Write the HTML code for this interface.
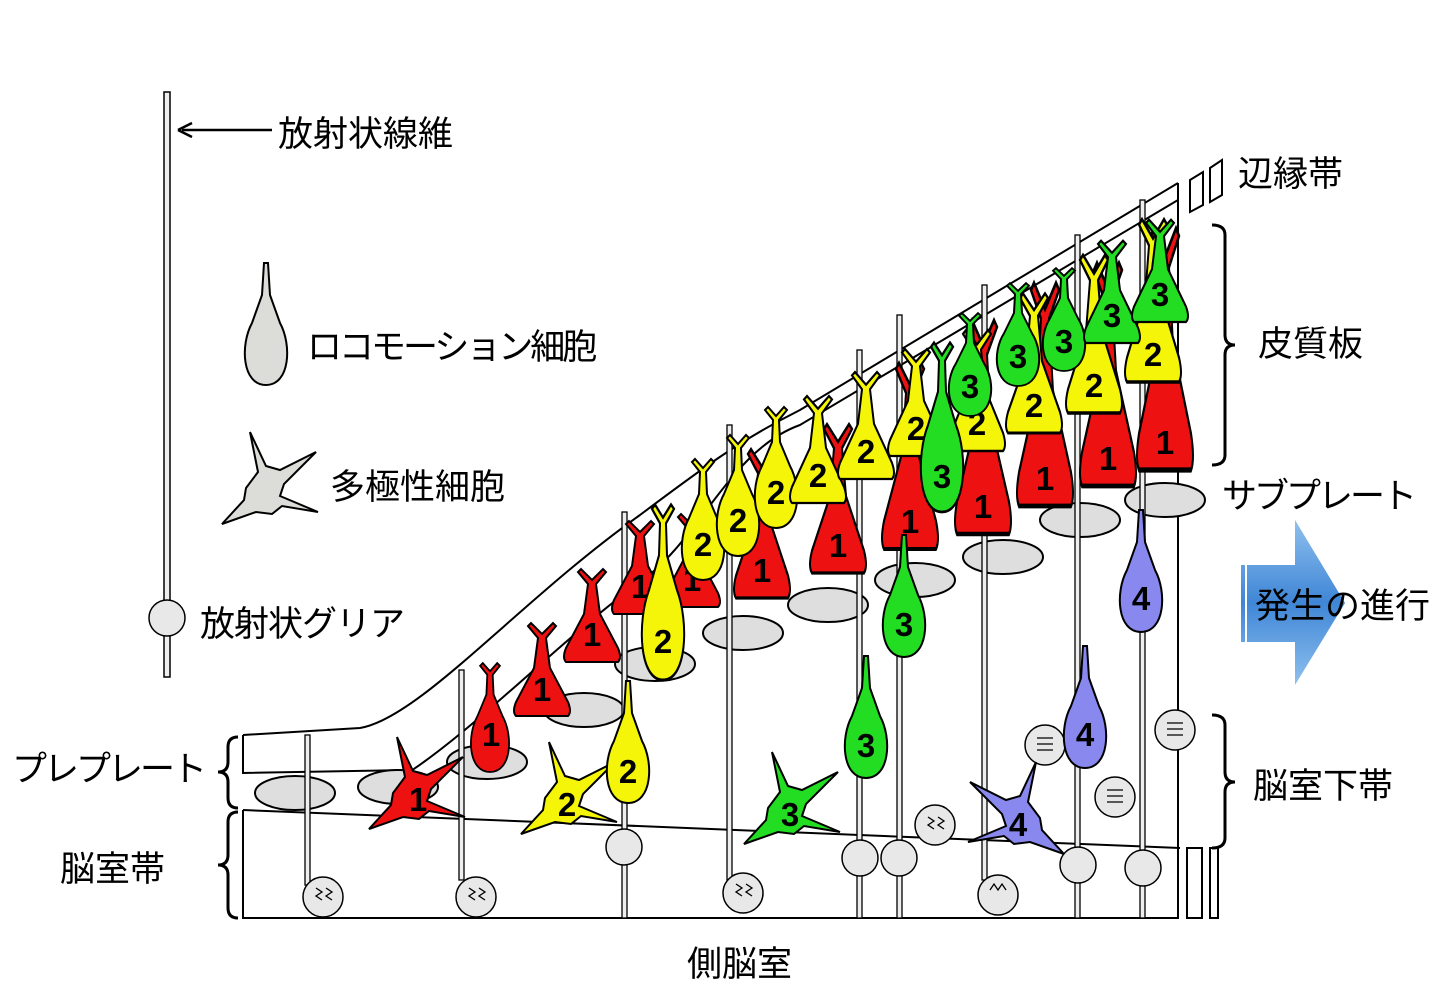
<!DOCTYPE html>
<html><head><meta charset="utf-8"><style>
html,body{margin:0;padding:0;background:#fff}
svg{display:block}
.j{font-family:"Liberation Sans","Noto Sans CJK JP",sans-serif;font-size:35px;fill:#000}
.k{letter-spacing:-3px}
.n{font-family:"Liberation Sans",sans-serif;font-weight:bold;font-size:33px;text-anchor:middle;fill:#000}
</style></head><body>
<svg width="1440" height="997" viewBox="0 0 1440 997" xmlns="http://www.w3.org/2000/svg">
<defs>
<path id="flask" d="M-26,0 Q-30,-4 -26,-14 L-8,-48 L-4,-78 L-14,-90 L-11,-93 L0,-82 L11,-93 L14,-90 L4,-78 L8,-48 L26,-14 Q30,-4 26,0 Z" stroke="#000" stroke-width="2"/>
<path id="spin" d="M0,0 C-24,0 -26,-40 -14,-62 L-4,-86 L-3,-108 L-11,-118 L-8,-121 L0,-112 L8,-121 L11,-118 L3,-108 L4,-86 L14,-62 C26,-40 24,0 0,0 Z" stroke="#000" stroke-width="2"/>
<path id="spin2" d="M0,0 C-24,0 -26,-40 -14,-62 L-4,-90 L-2,-122 L2,-122 L4,-90 L14,-62 C26,-40 24,0 0,0 Z" stroke="#000" stroke-width="2"/>
<path id="multi" d="M-10,-18 L-18,-58 L-2,-24 L12,-20 L48,-38 L16,-6 L12,6 L50,22 L14,16 L4,24 L-12,22 L-46,34 L-24,10 L-22,-2 Z" stroke="#000" stroke-width="2"/>
<linearGradient id="bl" x1="0" y1="0" x2="0" y2="1"><stop offset="0" stop-color="#8fc0ee"/><stop offset="0.5" stop-color="#3f86d6"/><stop offset="1" stop-color="#8fc0ee"/></linearGradient>
</defs>

<!-- left legend -->
<rect x="164" y="92" width="6" height="585" fill="#eee" stroke="#000" stroke-width="1.5"/>
<circle cx="167" cy="618" r="18" fill="#e8e8e8" stroke="#000" stroke-width="1.5"/>
<line x1="182" y1="130" x2="272" y2="130" stroke="#000" stroke-width="2.5"/>
<path d="M178,130 L192,123 M178,130 L192,137" stroke="#000" stroke-width="2.5" fill="none"/>
<text class="j" x="278" y="146">放射状線維</text>
<g transform="translate(266,385)"><use href="#spin2" fill="#dcdcd8"/></g>
<text class="j k" x="307" y="359">ロコモーション細胞</text>
<g transform="translate(268,490)"><use href="#multi" fill="#dcdcd8"/></g>
<text class="j" x="330" y="499">多極性細胞</text>
<text class="j" x="200" y="636" style="letter-spacing:-1px">放射状グリア</text>

<!-- tissue outline -->
<g fill="none" stroke="#000" stroke-width="2">
<path d="M243,735 L360,728 C420,718 520,600 640,515 C700,470 740,440 800,410 L1178,183"/>
<path d="M400,778 C470,735 560,640 640,582 C700,540 730,450 800,425 L1178,200"/>
<path d="M243,735 L243,773 L410,770"/>
<path d="M243,810 L1180,848"/>
<path d="M243,810 L243,918 L1178,918 L1178,183"/>
</g>
<path d="M1190,180 L1203,172 L1203,205 L1190,212 Z M1210,168 L1222,160 L1222,195 L1210,202 Z" fill="#fff" stroke="#000" stroke-width="2"/>
<rect x="1187" y="848" width="15" height="70" fill="#fff" stroke="#000" stroke-width="2"/>
<rect x="1210" y="848" width="8" height="70" fill="#fff" stroke="#000" stroke-width="2"/>

<!-- subplate ellipses -->
<g fill="#dedede" stroke="#000" stroke-width="2">
<ellipse cx="295" cy="793" rx="40" ry="17"/><ellipse cx="398" cy="787" rx="40" ry="17"/>
<ellipse cx="487" cy="762" rx="40" ry="17"/><ellipse cx="584" cy="710" rx="40" ry="17"/>
<ellipse cx="655" cy="664" rx="40" ry="17"/><ellipse cx="743" cy="633" rx="40" ry="17"/>
<ellipse cx="828" cy="605" rx="40" ry="17"/><ellipse cx="915" cy="580" rx="40" ry="17"/>
<ellipse cx="1003" cy="557" rx="40" ry="17"/><ellipse cx="1080" cy="520" rx="40" ry="17"/>
<ellipse cx="1165" cy="500" rx="40" ry="17"/>
</g>

<!-- radial glia fibers -->
<g fill="#eee" stroke="#000" stroke-width="1.3">
<rect x="305" y="735" width="5" height="150"/><rect x="459" y="670" width="5" height="210"/>
<rect x="622" y="512" width="5" height="406"/><rect x="727" y="425" width="5" height="455"/>
<rect x="857" y="350" width="5" height="568"/><rect x="897" y="315" width="5" height="603"/>
<rect x="982" y="285" width="5" height="595"/><rect x="1075" y="235" width="5" height="683"/>
<rect x="1140" y="200" width="5" height="718"/>
</g>
<g fill="#e8e8e8" stroke="#000" stroke-width="1.5">
<circle cx="624" cy="847" r="18"/><circle cx="860" cy="858" r="18"/><circle cx="899" cy="858" r="18"/>
<circle cx="1078" cy="865" r="18"/><circle cx="1143" cy="868" r="18"/>
<circle cx="323" cy="897" r="20"/><circle cx="476" cy="897" r="20"/><circle cx="743" cy="893" r="20"/><circle cx="998" cy="895" r="20"/>
<circle cx="935" cy="825" r="20"/><circle cx="1045" cy="745" r="20"/><circle cx="1115" cy="797" r="20"/><circle cx="1175" cy="730" r="20"/>
</g>
<g fill="none" stroke="#000" stroke-width="1.3">
<path d="M316,888 l6,4 -6,4 6,4 M326,888 l6,4 -6,4 6,4"/>
<path d="M469,888 l6,4 -6,4 6,4 M479,888 l6,4 -6,4 6,4"/>
<path d="M736,884 l6,4 -6,4 6,4 M746,884 l6,4 -6,4 6,4"/>
<path d="M990,890 l4,-6 4,6 4,-6 4,6"/>
<path d="M928,817 l6,4 -6,4 6,4 M938,817 l6,4 -6,4 6,4"/>
<path d="M1037,738 h16 M1037,744 h16 M1037,750 h16"/>
<path d="M1107,790 h16 M1107,796 h16 M1107,802 h16"/>
<path d="M1167,723 h16 M1167,729 h16 M1167,735 h16"/>
</g>

<!-- red cells -->
<g fill="#ee1111">
<g transform="translate(415,795)"><use href="#multi"/></g>
<g transform="translate(490,772) scale(0.9)"><use href="#spin"/></g>
<g transform="translate(542,716)"><use href="#flask"/></g>
<g transform="translate(592,662)"><use href="#flask"/></g>
<g transform="translate(640,614)"><use href="#flask"/></g>
<g transform="translate(692,607)"><use href="#flask"/></g>
<g transform="translate(762,598) scale(1,1.6)"><use href="#flask"/></g>
<g transform="translate(838,573) scale(1,1.6)"><use href="#flask"/></g>
<g transform="translate(910,549) scale(1,2)"><use href="#flask"/></g>
<g transform="translate(983,534) scale(1,2.3)"><use href="#flask"/></g>
<g transform="translate(1045,506) scale(1,2.4)"><use href="#flask"/></g>
<g transform="translate(1108,486) scale(1,2.4)"><use href="#flask"/></g>
<g transform="translate(1165,470) scale(1,2.6)"><use href="#flask"/></g>
</g>
<text class="n" x="418" y="811">1</text><text class="n" x="491" y="746">1</text>
<text class="n" x="542" y="701">1</text><text class="n" x="592" y="646">1</text>
<text class="n" x="640" y="598">1</text><text class="n" x="692" y="591">1</text>
<text class="n" x="762" y="582">1</text><text class="n" x="838" y="557">1</text>
<text class="n" x="910" y="533">1</text><text class="n" x="983" y="518">1</text>
<text class="n" x="1045" y="490">1</text><text class="n" x="1108" y="470">1</text>
<text class="n" x="1165" y="454">1</text>

<!-- yellow cells -->
<g fill="#f5f50a">
<g transform="translate(567,800)"><use href="#multi"/></g>
<g transform="translate(628,803)"><use href="#spin2"/></g>
<g transform="translate(663,680) scale(1,1.45)"><use href="#spin"/></g>
<g transform="translate(703,580)"><use href="#spin"/></g>
<g transform="translate(738,556)"><use href="#spin"/></g>
<g transform="translate(776,528)"><use href="#spin"/></g>
<g transform="translate(818,503) scale(1,1.15)"><use href="#flask"/></g>
<g transform="translate(866,479) scale(1,1.15)"><use href="#flask"/></g>
<g transform="translate(916,456) scale(1,1.15)"><use href="#flask"/></g>
<g transform="translate(977,451) scale(1,1.3)"><use href="#flask"/></g>
<g transform="translate(1034,433) scale(1,1.5)"><use href="#flask"/></g>
<g transform="translate(1094,413) scale(1,1.7)"><use href="#flask"/></g>
<g transform="translate(1153,382) scale(1,1.75)"><use href="#flask"/></g>
</g>
<text class="n" x="567" y="816">2</text><text class="n" x="628" y="783">2</text>
<text class="n" x="663" y="653">2</text><text class="n" x="703" y="556">2</text>
<text class="n" x="738" y="532">2</text><text class="n" x="776" y="504">2</text>
<text class="n" x="818" y="487">2</text><text class="n" x="866" y="463">2</text>
<text class="n" x="916" y="440">2</text><text class="n" x="977" y="435">2</text>
<text class="n" x="1034" y="417">2</text><text class="n" x="1094" y="397">2</text>
<text class="n" x="1153" y="366">2</text>

<!-- green cells -->
<g fill="#22dd22">
<g transform="translate(790,810)"><use href="#multi"/></g>
<g transform="translate(866,778)"><use href="#spin2"/></g>
<g transform="translate(904,657)"><use href="#spin2"/></g>
<g transform="translate(942,512) scale(1,1.4)"><use href="#spin"/></g>
<g transform="translate(970,416) scale(1,0.85)"><use href="#spin"/></g>
<g transform="translate(1018,386) scale(1,0.85)"><use href="#spin"/></g>
<g transform="translate(1064,371) scale(1,0.85)"><use href="#spin"/></g>
<g transform="translate(1112,343) scale(1,1.1)"><use href="#flask"/></g>
<g transform="translate(1160,322) scale(1,1.1)"><use href="#flask"/></g>
</g>
<text class="n" x="790" y="826">3</text><text class="n" x="866" y="757">3</text>
<text class="n" x="904" y="636">3</text><text class="n" x="942" y="488">3</text>
<text class="n" x="970" y="398">3</text><text class="n" x="1018" y="368">3</text>
<text class="n" x="1064" y="353">3</text><text class="n" x="1112" y="327">3</text>
<text class="n" x="1160" y="306">3</text>

<!-- blue cells -->
<g fill="#8888ee">
<g transform="translate(1018,820) scale(1,-1) rotate(180)"><use href="#multi"/></g>
<g transform="translate(1085,768)"><use href="#spin2"/></g>
<g transform="translate(1141,632)"><use href="#spin2"/></g>
</g>
<text class="n" x="1018" y="836">4</text><text class="n" x="1085" y="746">4</text><text class="n" x="1141" y="610">4</text>

<!-- right labels & braces -->
<g fill="none" stroke="#000" stroke-width="3">
<path d="M1212,225 Q1225,225 1225,235 L1225,335 Q1225,345 1235,345 Q1225,345 1225,355 L1225,455 Q1225,465 1212,465"/>
<path d="M1212,715 Q1225,715 1225,725 L1225,772 Q1225,782 1235,782 Q1225,782 1225,792 L1225,838 Q1225,848 1212,848"/>
<path d="M238,737 Q228,737 228,747 L228,762 Q228,772 218,772 Q228,772 228,782 L228,798 Q228,808 238,808"/>
<path d="M238,812 Q228,812 228,822 L228,855 Q228,865 218,865 Q228,865 228,875 L228,908 Q228,918 238,918"/>
</g>
<text class="j" x="1238" y="186">辺縁帯</text>
<text class="j" x="1258" y="356">皮質板</text>
<text class="j k" x="1222" y="508">サブプレート</text>
<path d="M1238,565 L1295,565 L1295,520 L1345,603 L1295,685 L1295,642 L1238,642 Z" fill="url(#bl)"/>
<rect x="1238" y="565" width="3" height="77" fill="#fff"/><rect x="1245" y="565" width="2" height="77" fill="#fff"/>
<text class="j" x="1255" y="618">発生の進行</text>
<text class="j" x="1253" y="798">脳室下帯</text>
<text class="j k" x="12" y="781">プレプレート</text>
<text class="j" x="60" y="881">脳室帯</text>
<text class="j" x="687" y="976">側脳室</text>
</svg>
</body></html>
